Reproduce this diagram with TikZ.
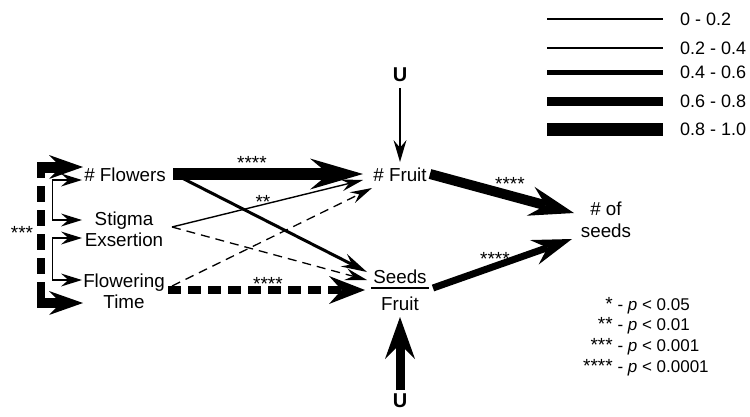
\documentclass[tikz,border=0pt]{standalone}
\usepackage{fontspec}
\setmainfont{Liberation Sans}
\usetikzlibrary{arrows.meta}
\newcommand\stz[1]{{\fontsize{19}{20.7}\selectfont #1}}
\begin{document}
\begin{tikzpicture}[x=1pt,y=-1pt,
  txt/.style={font=\fontsize{18.8}{21.5}\selectfont, inner sep=0pt, align=center},
  starlbl/.style={font=\fontsize{19}{19}\selectfont, inner sep=0pt, anchor=base},
  ulabel/.style={font=\bfseries\fontsize{20}{20}\selectfont, inner sep=0pt},
  legtxt/.style={font=\fontsize{18}{18}\selectfont, inner sep=0pt, anchor=west},
  ah/.style n args={2}{-{Stealth[length=#1,width=#2,inset'=0pt 0.35,line width=0pt]}},
  ahb/.style n args={2}{{Stealth[length=#1,width=#2,inset'=0pt 0.35,line width=0pt]}-{Stealth[length=#1,width=#2,inset'=0pt 0.35,line width=0pt]}},
  thinln/.style={line width=1.4pt},
  thindash/.style={line width=1.3pt, dash pattern=on 9pt off 6pt},
  thickdash/.style={line width=8pt, dash pattern=on 13pt off 7pt},
]
\useasboundingbox (0,0) rectangle (750,416);

% ---------- nodes ----------
\node[txt] (flowers) at (125,175) {\# Flowers};
\node[txt] (stigma) at (124,229.5) {Stigma\\Exsertion};
\node[txt] (ftime) at (124,291.5) {Flowering\\Time};
\node[txt] (fruit) at (400,175) {\# Fruit};
\node[txt] (sd) at (400,277) {Seeds};
\node[txt] (sf) at (400,304) {Fruit};
\node[txt] (nseeds) at (606,220) {\# of\\seeds};
\node[ulabel] (utop) at (400,75) {U};
\node[ulabel] (ubot) at (400,401) {U};

% ---------- coordinates ----------
\coordinate (ut-o) at (400,88);   \coordinate (fr-top) at (400,162);
\coordinate (ub-o) at (400,390);  \coordinate (sf-bot) at (400,317);
\coordinate (fl-o1) at (173,174); \coordinate (fr-in1) at (363,174);
\coordinate (fl-o2) at (180,177); \coordinate (sd-in1) at (367,272);
\coordinate (st-o) at (172,227);  \coordinate (fr-in2) at (363,180);
\coordinate (sd-in2) at (367,280);
\coordinate (ft-o1) at (172,286); \coordinate (fr-in3) at (372,188);
\coordinate (ft-o2) at (168,290); \coordinate (sd-in3) at (365,290);
\coordinate (fr-o) at (430,174);  \coordinate (ns-in1) at (574,213);
\coordinate (sd-o) at (433,288);  \coordinate (ns-in2) at (572,239);
\coordinate (lb-top) at (41,162); \coordinate (lb-bot) at (41,303);
\coordinate (lt-s) at (37,167);   \coordinate (fl-in0) at (83,167);
\coordinate (lbb-s) at (37,303);  \coordinate (ft-in0) at (83,303);
\coordinate (fl-in) at (82,180);  \coordinate (ba1) at (52.5,180);
\coordinate (ba2) at (52.5,220);  \coordinate (st-in) at (82,220);
\coordinate (ex-in) at (82,238);  \coordinate (bb1) at (52.5,238);
\coordinate (bb2) at (52.5,280);  \coordinate (ft-in) at (82,280);

% ---------- connectors ----------
\draw[thinln, ah={22pt}{13pt}] (ut-o) -- (fr-top);
\draw[line width=9pt, ah={42pt}{30pt}] (ub-o) -- (sf-bot);
\draw[line width=12pt, ah={53pt}{31pt}] (fl-o1) -- (fr-in1);
\draw[line width=3pt, ah={26pt}{14pt}] (fl-o2) -- (sd-in1);
\draw[thinln, ah={22pt}{12pt}] (st-o) -- (fr-in2);
\draw[thindash, ah={22pt}{12pt}] (st-o) -- (sd-in2);
\draw[thindash, ah={22pt}{12pt}] (ft-o1) -- (fr-in3);
\draw[thickdash, ah={36pt}{28pt}] (ft-o2) -- (sd-in3);
\draw[line width=10pt, ah={45pt}{30pt}] (fr-o) -- (ns-in1);
\draw[line width=7pt, ah={40pt}{26pt}] (sd-o) -- (ns-in2);
\draw[line width=1.8pt] ([xshift=-2pt]sd.south west) ++(0,4) coordinate (rl) -- ([xshift=2pt]sd.south east |- rl);

% left bracket (exogenous correlation)
\draw[line width=8pt, dash pattern=on 16pt off 8pt] (lb-top) -- (lb-bot);
\draw[line width=11pt, ah={34pt}{24pt}] (lt-s) -- (fl-in0);
\draw[line width=10pt, ah={34pt}{24pt}] (lbb-s) -- (ft-in0);
\draw[thinln, ahb={21pt}{13pt}] (fl-in) -- (ba1) -- (ba2) -- (st-in);
\draw[thinln, ahb={21pt}{13pt}] (ex-in) -- (bb1) -- (bb2) -- (ft-in);

% ---------- significance labels ----------
\node[starlbl] (s1) at (252,169) {****};
\node[starlbl] (s2) at (263,208) {**};
\node[starlbl] (s3) at (268,290) {****};
\node[starlbl] (s4) at (510,190) {****};
\node[starlbl] (s5) at (495,265) {****};
\node[starlbl] (s6) at (22,239) {***};

% ---------- legend ----------
\draw[line width=1.2pt] (547,19) -- (663,19);
\draw[line width=2.5pt] (547,48) -- (663,48);
\draw[line width=5pt] (547,72) -- (663,72);
\draw[line width=9pt] (547,101) -- (663,101);
\draw[line width=13pt] (547,129) -- (663,129);
\node[legtxt] (l1) at (680,19) {0 - 0.2};
\node[legtxt] (l2) at (680,48) {0.2 - 0.4};
\node[legtxt] (l3) at (680,72) {0.4 - 0.6};
\node[legtxt] (l4) at (680,101) {0.6 - 0.8};
\node[legtxt] (l5) at (680,129) {0.8 - 1.0};

\node[anchor=west, inner sep=0pt, font=\fontsize{17}{20.7}\selectfont] (stats) at (583,337)
 {\begin{tabular}{@{}r@{\ -\ }l@{}}
  \stz{*} & \textit{p} < 0.05\\
  \stz{**} & \textit{p} < 0.01\\
  \stz{***} & \textit{p} < 0.001\\
  \stz{****} & \textit{p} < 0.0001
 \end{tabular}};
\end{tikzpicture}
\end{document}
